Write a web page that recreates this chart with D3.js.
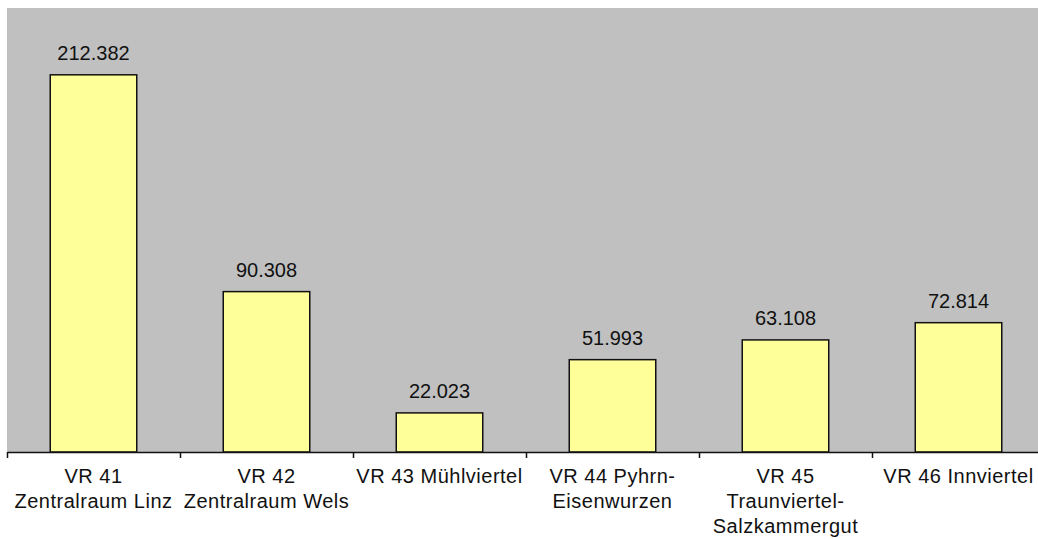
<!DOCTYPE html>
<html>
<head>
<meta charset="utf-8">
<script src="https://cdn.jsdelivr.net/npm/d3@7"></script>
<style>
  html, body { margin: 0; padding: 0; background: #ffffff; }
  svg { display: block; }
</style>
</head>
<body>
<svg id="chart" width="1038" height="539"></svg>
<script>
// ---- data ----
const categories = ["VR 41", "VR 42", "VR 43", "VR 44", "VR 45", "VR 46"];
const categoryLines = [
  ["VR 41", "Zentralraum Linz"],
  ["VR 42", "Zentralraum Wels"],
  ["VR 43 Mühlviertel"],
  ["VR 44 Pyhrn-", "Eisenwurzen"],
  ["VR 45", "Traunviertel-", "Salzkammergut"],
  ["VR 46 Innviertel"]
];
const values = [212.382, 90.308, 22.023, 51.993, 63.108, 72.814];
const valueLabels = ["212.382", "90.308", "22.023", "51.993", "63.108", "72.814"];
const yDomain = [0, 250];

// ---- layout ----
const svg = d3.select("#chart");
const plotLeft = 7, plotRight = 1045, plotTop = 8, plotBottom = 452;

const x = d3.scaleBand()
  .domain(categories)
  .range([plotLeft, plotRight])
  .paddingInner(0.5)
  .paddingOuter(0.25);

const y = d3.scaleLinear().domain(yDomain).range([plotBottom, plotTop]);

// plot background
svg.append("rect")
  .attr("x", plotLeft).attr("y", plotTop)
  .attr("width", plotRight - plotLeft).attr("height", plotBottom - plotTop)
  .attr("fill", "#c0c0c0");

// bars
svg.selectAll("rect.bar")
  .data(values)
  .join("rect")
  .attr("class", "bar")
  .attr("x", (d, i) => x(categories[i]))
  .attr("y", d => y(d))
  .attr("width", x.bandwidth())
  .attr("height", d => y(0) - y(d))
  .attr("fill", "#ffff99")
  .attr("stroke", "#111")
  .attr("stroke-width", 1.5);

// value labels
svg.selectAll("text.val")
  .data(values)
  .join("text")
  .attr("class", "val")
  .attr("x", (d, i) => x(categories[i]) + x.bandwidth() / 2)
  .attr("y", d => y(d) - 15)
  .attr("text-anchor", "middle")
  .attr("font-family", "'Liberation Sans', Arial, sans-serif")
  .attr("font-size", 20)
  .attr("fill", "#111")
  .text((d, i) => valueLabels[i]);

// x axis with boundary ticks
const boundary = d3.scaleLinear().domain([0, categories.length]).range([plotLeft, plotRight]);
const axis = svg.append("g")
  .attr("transform", `translate(0,${plotBottom})`)
  .call(d3.axisBottom(boundary)
    .tickValues(d3.range(0, categories.length + 1))
    .tickSize(6)
    .tickSizeOuter(0)
    .tickFormat(""));
axis.selectAll("path, line").attr("stroke", "#111").attr("stroke-width", 1.5);

// category labels
const catG = svg.selectAll("text.cat")
  .data(categoryLines)
  .join("text")
  .attr("class", "cat")
  .attr("text-anchor", "middle")
  .attr("font-family", "'Liberation Sans', Arial, sans-serif")
  .attr("font-size", 20)
  .attr("letter-spacing", 0.5)
  .attr("fill", "#111");

catG.each(function(lines, i) {
  const cx = x(categories[i]) + x.bandwidth() / 2;
  d3.select(this).selectAll("tspan")
    .data(lines)
    .join("tspan")
    .attr("x", cx)
    .attr("y", (d, j) => 483 + j * 25)
    .text(d => d);
});
</script>
</body>
</html>
